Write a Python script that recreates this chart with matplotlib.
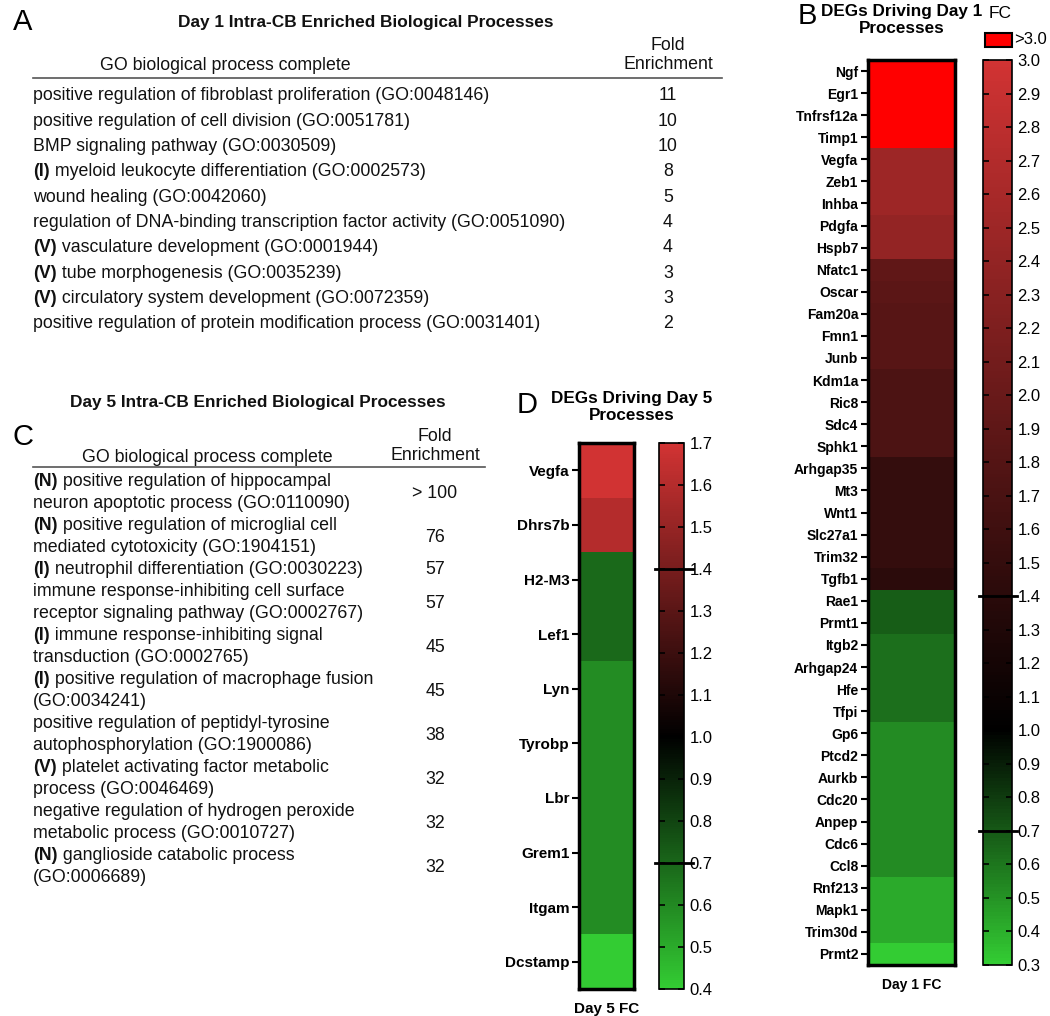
import numpy as np
import matplotlib
matplotlib.use('Agg')
import matplotlib.pyplot as plt
from matplotlib.colors import LinearSegmentedColormap, Normalize
from matplotlib.patches import Rectangle

plt.rcParams['font.family'] = ['Liberation Sans', 'DejaVu Sans']

W, H = 1050, 1016

# panel A - day 1 GO terms
day1_tags = ['', '', '', '(I)', '', '', '(V)', '(V)', '(V)', '']
day1_terms = [
    'positive regulation of fibroblast proliferation (GO:0048146)',
    'positive regulation of cell division (GO:0051781)',
    'BMP signaling pathway (GO:0030509)',
    'myeloid leukocyte differentiation (GO:0002573)',
    'wound healing (GO:0042060)',
    'regulation of DNA-binding transcription factor activity (GO:0051090)',
    'vasculature development (GO:0001944)',
    'tube morphogenesis (GO:0035239)',
    'circulatory system development (GO:0072359)',
    'positive regulation of protein modification process (GO:0031401)',
]
day1_fold = ['11', '10', '10', '8', '5', '4', '4', '3', '3', '2']

# panel C - day 5 GO terms
day5_tags = ['(N)', '(N)', '(I)', '', '(I)', '(I)', '', '(V)', '', '(N)']
day5_terms = [
    'positive regulation of hippocampal\nneuron apoptotic process (GO:0110090)',
    'positive regulation of microglial cell\nmediated cytotoxicity (GO:1904151)',
    'neutrophil differentiation (GO:0030223)',
    'immune response-inhibiting cell surface\nreceptor signaling pathway (GO:0002767)',
    'immune response-inhibiting signal\ntransduction (GO:0002765)',
    'positive regulation of macrophage fusion\n(GO:0034241)',
    'positive regulation of peptidyl-tyrosine\nautophosphorylation (GO:1900086)',
    'platelet activating factor metabolic\nprocess (GO:0046469)',
    'negative regulation of hydrogen peroxide\nmetabolic process (GO:0010727)',
    'ganglioside catabolic process\n(GO:0006689)',
]
day5_fold = ['> 100', '76', '57', '57', '45', '45', '38', '32', '32', '32']

# panel B - day 1 DEG fold changes
day1_genes = ['Ngf', 'Egr1', 'Tnfrsf12a', 'Timp1', 'Vegfa', 'Zeb1', 'Inhba', 'Pdgfa',
              'Hspb7', 'Nfatc1', 'Oscar', 'Fam20a', 'Fmn1', 'Junb', 'Kdm1a', 'Ric8',
              'Sdc4', 'Sphk1', 'Arhgap35', 'Mt3', 'Wnt1', 'Slc27a1', 'Trim32', 'Tgfb1',
              'Rae1', 'Prmt1', 'Itgb2', 'Arhgap24', 'Hfe', 'Tfpi', 'Gp6', 'Ptcd2',
              'Aurkb', 'Cdc20', 'Anpep', 'Cdc6', 'Ccl8', 'Rnf213', 'Mapk1', 'Trim30d',
              'Prmt2']
day1_fc = [3.6, 3.4, 3.3, 3.2, 2.5, 2.5, 2.5, 2.4, 2.4, 1.92, 1.87, 1.83, 1.83, 1.83,
           1.73, 1.73, 1.73, 1.73, 1.5, 1.5, 1.5, 1.5, 1.5, 1.41, 0.69, 0.69, 0.62,
           0.62, 0.62, 0.62, 0.53, 0.53, 0.53, 0.53, 0.53, 0.53, 0.53, 0.42, 0.42,
           0.42, 0.3]

# panel D - day 5 DEG fold changes
day5_genes = ['Vegfa', 'Dhrs7b', 'H2-M3', 'Lef1', 'Lyn', 'Tyrobp', 'Lbr', 'Grem1',
              'Itgam', 'Dcstamp']
day5_fc = [1.7, 1.6, 0.69, 0.69, 0.59, 0.59, 0.59, 0.59, 0.59, 0.4]

GREEN = (0.2, 0.8, 0.2)
RED = (0.82, 0.2, 0.2)
BODY = 12.8
INK = '#111111'


def fc_cmap(vmin, vmax):
    mid = (1.0 - vmin) / (vmax - vmin)
    cmap = LinearSegmentedColormap.from_list('fc', [(0, GREEN), (mid, 'black'), (1, RED)])
    cmap.set_over('#ff0000')
    return cmap


def px_axes(x0, y0, x1, y1):
    return fig.add_axes([x0 / W, 1 - y1 / H, (x1 - x0) / W, (y1 - y0) / H])


fig = plt.figure(figsize=(W / 100, H / 100), dpi=100)
bg = fig.add_axes([0, 0, 1, 1])
bg.set_xlim(0, W)
bg.set_ylim(H, 0)
bg.axis('off')


def go_line(x, y, tag, text):
    if tag:
        t = bg.text(x, y, tag, fontsize=BODY, fontweight='bold', va='center_baseline',
                    color=INK)
        bg.annotate(' ' + text, xy=(1, y), xycoords=(t, 'data'), fontsize=BODY,
                    va='center_baseline', color=INK)
    else:
        bg.text(x, y, text, fontsize=BODY, va='center_baseline', color=INK)


# ---- panel A ----
bg.text(13, 22, 'A', fontsize=21, va='center')
bg.text(366, 22, 'Day 1 Intra-CB Enriched Biological Processes', fontsize=12.4,
        fontweight='bold', ha='center', va='center', color=INK)
bg.text(225, 66, 'GO biological process complete', fontsize=BODY, ha='center',
        va='center', color=INK)
bg.text(668, 55, 'Fold\nEnrichment', fontsize=BODY, ha='center', va='center',
        linespacing=1.1, color=INK)
bg.plot([33, 722], [78, 78], color='#555555', lw=1.2)
for i, (tag, term, fold) in enumerate(zip(day1_tags, day1_terms, day1_fold)):
    y = 94 + i * 25.3
    go_line(33, y, tag, term)
    bg.text(668, y, fold, fontsize=BODY, ha='center', va='center_baseline', color=INK)

# ---- panel C ----
bg.text(13, 437, 'C', fontsize=21, va='center')
bg.text(258, 403, 'Day 5 Intra-CB Enriched Biological Processes', fontsize=12.4,
        fontweight='bold', ha='center', va='center', color=INK)
bg.text(207, 457, 'GO biological process complete', fontsize=BODY, ha='center',
        va='center', color=INK)
bg.text(435, 446, 'Fold\nEnrichment', fontsize=BODY, ha='center', va='center',
        linespacing=1.1, color=INK)
bg.plot([33, 485], [467, 467], color='#555555', lw=1.2)
line = 0
for tag, term, fold in zip(day5_tags, day5_terms, day5_fold):
    parts = term.split('\n')
    y0 = 480 + line * 22
    for k, p in enumerate(parts):
        go_line(33, y0 + k * 22, tag if k == 0 else '', p)
    bg.text(435, y0 + (len(parts) - 1) * 11, fold, fontsize=BODY, ha='center',
            va='center_baseline', color=INK)
    line += len(parts)


# ---- heatmaps ----
def heat(ax, genes, fc, vmin, vmax, label, size):
    vals = np.array(fc)[:, None]
    ax.pcolormesh(vals, cmap=fc_cmap(vmin, vmax), norm=Normalize(vmin, vmax))
    ax.set_ylim(len(genes), 0)
    ax.set_yticks(np.arange(len(genes)) + 0.5, genes, fontsize=size, fontweight='bold')
    ax.set_xticks([])
    ax.set_xlabel(label, fontsize=size, fontweight='bold', labelpad=9)
    ax.tick_params(axis='y', length=5, width=1.5, pad=2)
    for s in ax.spines.values():
        s.set_linewidth(2.5)


def fc_bar(cax, vmin, vmax, reach):
    sm = plt.cm.ScalarMappable(norm=Normalize(vmin, vmax), cmap=fc_cmap(vmin, vmax))
    ticks = np.round(np.arange(vmin, vmax + 0.001, 0.1), 1)
    cb = fig.colorbar(sm, cax=cax, ticks=ticks)
    cb.outline.set_linewidth(1.2)
    cax.yaxis.set_ticks_position('both')
    cax.tick_params(axis='y', direction='in', length=4, width=1.2, labelsize=12,
                    labelright=True, labelleft=False, pad=4)
    cax.yaxis.set_major_formatter('{x:.1f}')
    for v in (1.4, 0.7):
        cax.plot([-0.15, reach], [v, v], color='black', lw=2,
                 transform=cax.get_yaxis_transform(), clip_on=False)


# panel B
bg.text(798, 16, 'B', fontsize=21, va='center')
bg.text(902, 20, 'DEGs Driving Day 1\nProcesses', fontsize=12.3, fontweight='bold',
        ha='center', va='center', linespacing=1.2)
axB = px_axes(868, 60, 955, 965)
heat(axB, day1_genes, day1_fc, 0.3, 3.0, 'Day 1 FC', 10)
caxB = px_axes(983, 60, 1012, 965)
fc_bar(caxB, 0.3, 3.0, 1.18)
bg.text(1000, 14, 'FC', fontsize=12.5, ha='center', va='center')
bg.add_patch(Rectangle((985, 33), 27, 14, facecolor=fc_cmap(0.3, 3.0).get_over(),
                       edgecolor='black', lw=1.5))
bg.text(1014, 40, '>3.0', fontsize=12, va='center')

# panel D
bg.text(517, 405, 'D', fontsize=21, va='center')
bg.text(632, 407, 'DEGs Driving Day 5\nProcesses', fontsize=12.3, fontweight='bold',
        ha='center', va='center', linespacing=1.2)
axD = px_axes(579, 443, 634, 989)
heat(axD, day5_genes, day5_fc, 0.4, 1.7, 'Day 5 FC', 11)
caxD = px_axes(659, 443, 684, 989)
fc_bar(caxD, 0.4, 1.7, 1.35)

fig.savefig('out.png', dpi=100, facecolor='white')
